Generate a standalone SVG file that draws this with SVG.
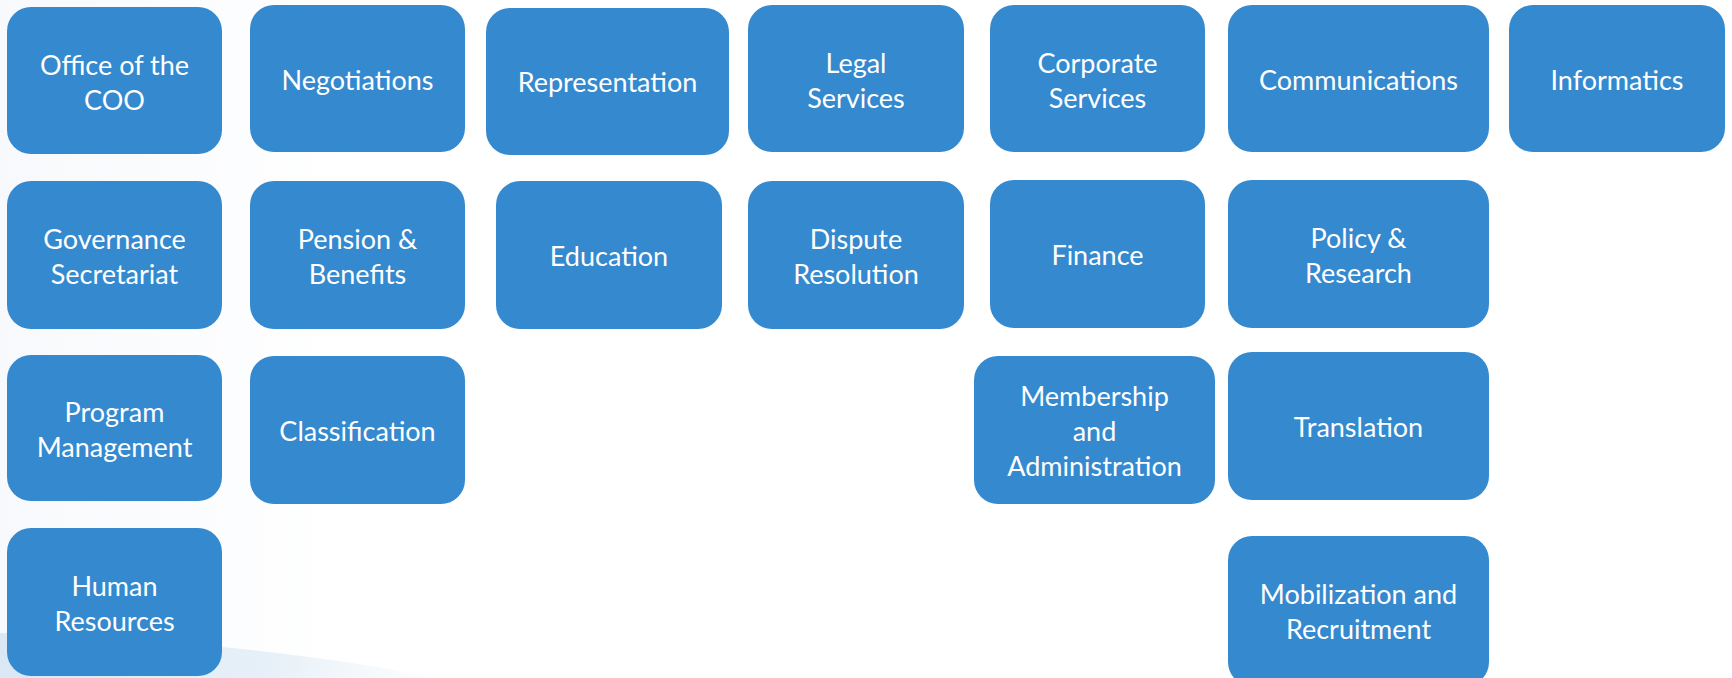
<svg xmlns="http://www.w3.org/2000/svg" width="1732" height="678" viewBox="0 0 1732 678">
<style>
.box{fill:#3489cf}
.t{fill:#ffffff;font-family:Lato,"Open Sans",sans-serif;font-size:27px;text-anchor:middle}
</style>
<defs>
<linearGradient id="sw" x1="0" y1="0" x2="1" y2="0">
<stop offset="0" stop-color="#d9e8f4"/>
<stop offset="0.6" stop-color="#e6f0f8"/>
<stop offset="1" stop-color="#ffffff"/>
</linearGradient>
<linearGradient id="bg" x1="0" y1="0" x2="1" y2="0">
<stop offset="0" stop-color="#f7f9fc"/>
<stop offset="0.2" stop-color="#ffffff"/>
</linearGradient>
</defs>
<rect width="1732" height="678" fill="url(#bg)"/>
<path d="M0,633 Q240,640 440,678 L0,678 Z" fill="url(#sw)"/>
<g id="office-coo"><rect class="box" x="7" y="7" width="215" height="147" rx="24"/><text class="t" x="114.5" y="75">Office of the</text><text class="t" x="114.5" y="110">COO</text></g>
<g id="negotiations"><rect class="box" x="250" y="5" width="215" height="147" rx="24"/><text class="t" x="357.5" y="90">Negotiations</text></g>
<g id="representation"><rect class="box" x="486" y="8" width="243" height="147" rx="24"/><text class="t" x="607.5" y="92">Representation</text></g>
<g id="legal-services"><rect class="box" x="748" y="5" width="216" height="147" rx="24"/><text class="t" x="856" y="73">Legal</text><text class="t" x="856" y="108">Services</text></g>
<g id="corporate-services"><rect class="box" x="990" y="5" width="215" height="147" rx="24"/><text class="t" x="1097.5" y="73">Corporate</text><text class="t" x="1097.5" y="108">Services</text></g>
<g id="communications"><rect class="box" x="1228" y="5" width="261" height="147" rx="24"/><text class="t" x="1358.5" y="90">Communications</text></g>
<g id="informatics"><rect class="box" x="1509" y="5" width="216" height="147" rx="24"/><text class="t" x="1617" y="90">Informatics</text></g>
<g id="governance-secretariat"><rect class="box" x="7" y="181" width="215" height="148" rx="24"/><text class="t" x="114.5" y="249">Governance</text><text class="t" x="114.5" y="284">Secretariat</text></g>
<g id="pension-benefits"><rect class="box" x="250" y="181" width="215" height="148" rx="24"/><text class="t" x="357.5" y="249">Pension &amp;</text><text class="t" x="357.5" y="284">Benefits</text></g>
<g id="education"><rect class="box" x="496" y="181" width="226" height="148" rx="24"/><text class="t" x="609" y="266">Education</text></g>
<g id="dispute-resolution"><rect class="box" x="748" y="181" width="216" height="148" rx="24"/><text class="t" x="856" y="249">Dispute</text><text class="t" x="856" y="284">Resolution</text></g>
<g id="finance"><rect class="box" x="990" y="180" width="215" height="148" rx="24"/><text class="t" x="1097.5" y="265">Finance</text></g>
<g id="policy-research"><rect class="box" x="1228" y="180" width="261" height="148" rx="24"/><text class="t" x="1358.5" y="248">Policy &amp;</text><text class="t" x="1358.5" y="283">Research</text></g>
<g id="program-management"><rect class="box" x="7" y="355" width="215" height="146" rx="24"/><text class="t" x="114.5" y="422">Program</text><text class="t" x="114.5" y="457">Management</text></g>
<g id="classification"><rect class="box" x="250" y="356" width="215" height="148" rx="24"/><text class="t" x="357.5" y="441">Classification</text></g>
<g id="membership-administration"><rect class="box" x="974" y="356" width="241" height="148" rx="24"/><text class="t" x="1094.5" y="406">Membership</text><text class="t" x="1094.5" y="441">and</text><text class="t" x="1094.5" y="476">Administration</text></g>
<g id="translation"><rect class="box" x="1228" y="352" width="261" height="148" rx="24"/><text class="t" x="1358.5" y="437">Translation</text></g>
<g id="human-resources"><rect class="box" x="7" y="528" width="215" height="148" rx="24"/><text class="t" x="114.5" y="596">Human</text><text class="t" x="114.5" y="631">Resources</text></g>
<g id="mobilization-recruitment"><rect class="box" x="1228" y="536" width="261" height="150" rx="24"/><text class="t" x="1358.5" y="604">Mobilization and</text><text class="t" x="1358.5" y="639">Recruitment</text></g>
<g id="connectors"></g>
</svg>
